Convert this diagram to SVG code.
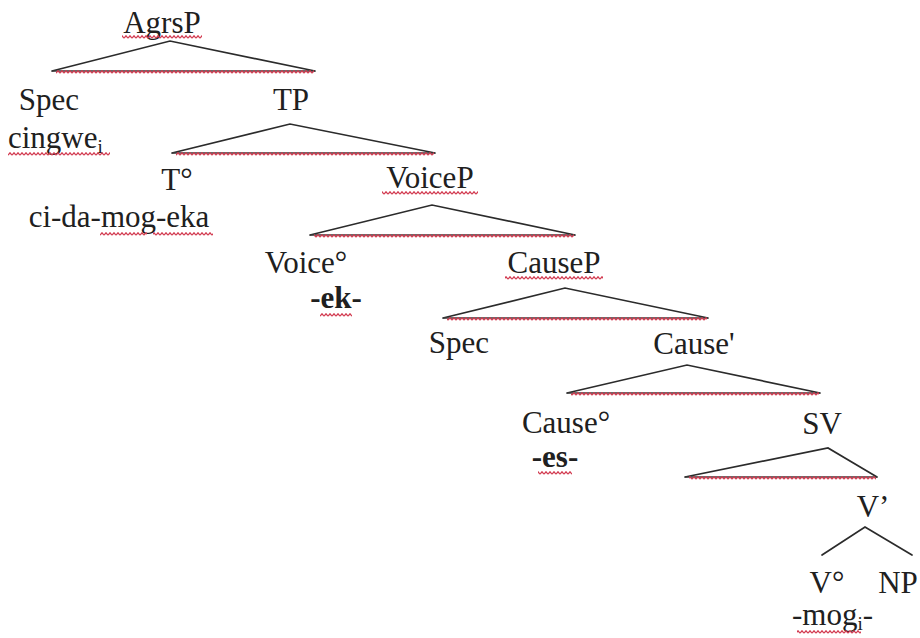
<svg xmlns="http://www.w3.org/2000/svg" width="920" height="638" viewBox="0 0 920 638">
  <style>
    .lbl { font-family: "Liberation Serif", "Times New Roman", serif; font-size: 31px; fill: #202020; }
    .mid { text-anchor: middle; }
    .b { font-weight: bold; }
    .sub { font-size: 19px; }
    .edge { stroke: #2b2b2b; stroke-width: 1.7; fill: none; stroke-linecap: round; }
    .base { stroke: #3a3a3a; stroke-width: 1.6; fill: none; }
    .sq { fill: url(#wave); }
  </style>
  <defs>
    <!-- red wavy spell-check underline -->
    <pattern id="wave" width="4" height="4" patternUnits="userSpaceOnUse">
      <path d="M0 3.2 L2 0.8 L4 3.2" stroke="#d23a50" stroke-width="1.3" fill="none"/>
    </pattern>
  </defs>
  <rect width="920" height="638" fill="#ffffff"/>

  <!-- branches of the tree: each phrase draws a triangle, V' two plain branches -->
  <g id="connectors">
    <!-- AgrsP -->
    <path class="edge" d="M52 71 L170 41 L315 71"/>
    <line class="base" x1="52" y1="71" x2="315" y2="71"/>
    <rect class="sq" x="56" y="0" width="258" height="4" transform="translate(0,70)"/>
    <!-- TP -->
    <path class="edge" d="M172 153 L290 124 L435 153"/>
    <line class="base" x1="172" y1="153" x2="435" y2="153"/>
    <rect class="sq" x="176" y="0" width="258" height="4" transform="translate(0,152)"/>
    <!-- VoiceP -->
    <path class="edge" d="M310 235 L432 205 L575 235"/>
    <line class="base" x1="310" y1="235" x2="575" y2="235"/>
    <rect class="sq" x="314" y="0" width="260" height="4" transform="translate(0,234)"/>
    <!-- CauseP -->
    <path class="edge" d="M443 318 L565 288 L708 318"/>
    <line class="base" x1="443" y1="318" x2="708" y2="318"/>
    <rect class="sq" x="447" y="0" width="260" height="4" transform="translate(0,317)"/>
    <!-- Cause' -->
    <path class="edge" d="M567 393 L687 365 L820 393"/>
    <line class="base" x1="567" y1="393" x2="820" y2="393"/>
    <rect class="sq" x="571" y="0" width="248" height="4" transform="translate(0,392)"/>
    <!-- SV -->
    <path class="edge" d="M685 477 L828 448 L877 477"/>
    <line class="base" x1="685" y1="477" x2="877" y2="477"/>
    <rect class="sq" x="689" y="0" width="187" height="4" transform="translate(0,476)"/>
    <!-- V' -->
    <path class="edge" d="M822 555 L865 527 L912 555"/>
  </g>

  <g id="n-agrsp">
    <text class="lbl mid" x="162" y="33">AgrsP</text>
    <rect class="sq" x="122" y="0" width="80" height="4" transform="translate(0,35)"/>
  </g>
  <g id="n-spec1">
    <text class="lbl mid" x="49" y="110">Spec</text>
    <text class="lbl" x="8" y="148">cingwe<tspan class="sub" dy="5">i</tspan></text>
    <rect class="sq" x="8" y="0" width="102" height="4" transform="translate(0,152)"/>
  </g>
  <g id="n-tp">
    <text class="lbl mid" x="291" y="110">TP</text>
  </g>
  <g id="n-t">
    <text class="lbl mid" x="177" y="190">T°</text>
    <text class="lbl mid" x="119" y="227">ci-da-mog-eka</text>
    <rect class="sq" x="100" y="0" width="47" height="4" transform="translate(0,232)"/>
    <rect class="sq" x="153" y="0" width="60" height="4" transform="translate(0,232)"/>
  </g>
  <g id="n-voicep">
    <text class="lbl mid" x="430" y="188">VoiceP</text>
    <rect class="sq" x="382" y="0" width="96" height="4" transform="translate(0,191)"/>
  </g>
  <g id="n-voice">
    <text class="lbl mid" x="306" y="273">Voice°</text>
    <text class="lbl mid b" x="336" y="308">-ek-</text>
    <rect class="sq" x="320" y="0" width="32" height="4" transform="translate(0,313)"/>
  </g>
  <g id="n-causep">
    <text class="lbl mid" x="554" y="273">CauseP</text>
    <rect class="sq" x="505" y="0" width="98" height="4" transform="translate(0,276)"/>
  </g>
  <g id="n-spec2">
    <text class="lbl mid" x="459" y="353">Spec</text>
  </g>
  <g id="n-causebar">
    <text class="lbl mid" x="694" y="354">Cause'</text>
  </g>
  <g id="n-cause">
    <text class="lbl mid" x="566" y="433">Cause°</text>
    <text class="lbl mid b" x="555" y="467">-es-</text>
    <rect class="sq" x="538" y="0" width="34" height="4" transform="translate(0,471)"/>
  </g>
  <g id="n-sv">
    <text class="lbl mid" x="822" y="434">SV</text>
  </g>
  <g id="n-vbar">
    <text class="lbl mid" x="873" y="517">V’</text>
  </g>
  <g id="n-v">
    <text class="lbl mid" x="827" y="593">V°</text>
    <text class="lbl" x="792" y="625">-mog<tspan class="sub" dy="5">i</tspan><tspan dy="-5">-</tspan></text>
    <rect class="sq" x="797" y="0" width="64" height="4" transform="translate(0,630)"/>
  </g>
  <g id="n-np">
    <text class="lbl mid" x="898" y="593">NP</text>
  </g>
</svg>
